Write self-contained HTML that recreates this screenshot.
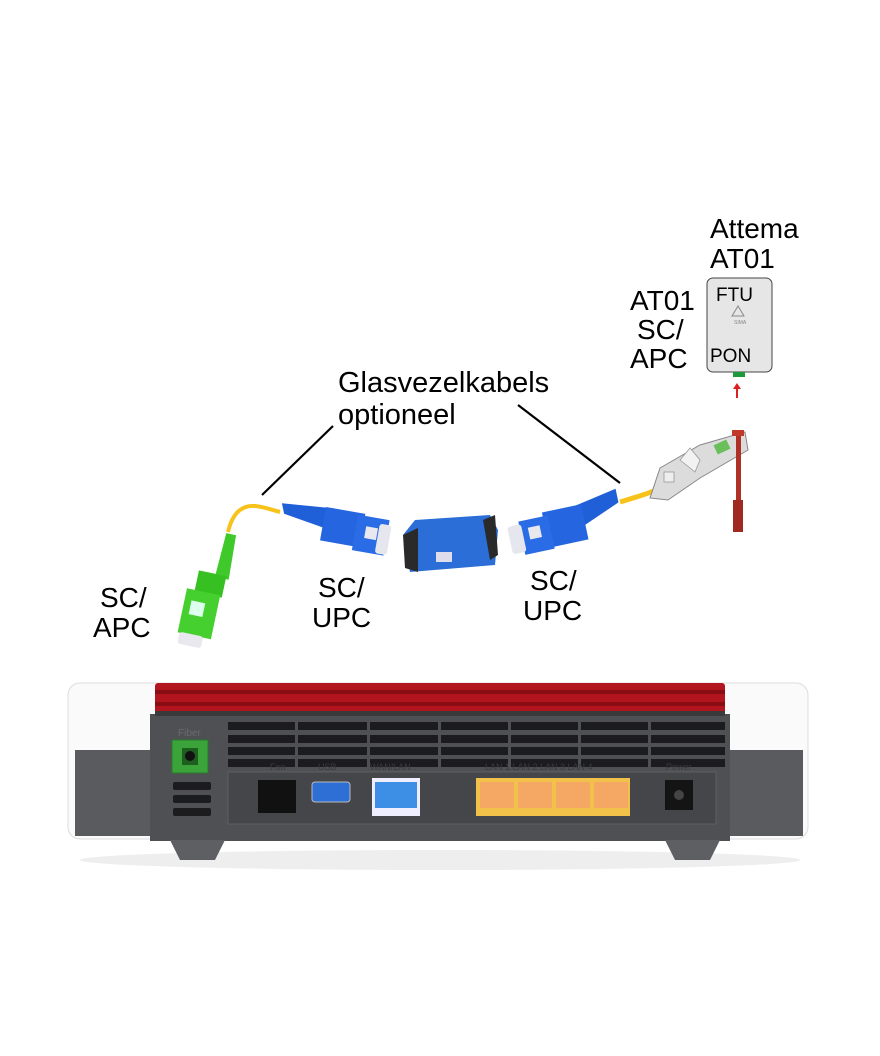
<!DOCTYPE html>
<html><head><meta charset="utf-8"><style>
html,body{margin:0;padding:0;background:#fff}
svg{display:block}
text{font-family:"Liberation Sans",Arial,sans-serif;fill:#000}
</style></head><body>
<svg width="880" height="1056" viewBox="0 0 880 1056" xmlns="http://www.w3.org/2000/svg">
<rect width="880" height="1056" fill="#fff"/>
<!-- labels -->
<text x="710" y="238" font-size="28">Attema</text>
<text x="710" y="268" font-size="28">AT01</text>
<text x="630" y="310" font-size="28">AT01</text>
<text x="637" y="339" font-size="28">SC/</text>
<text x="630" y="368" font-size="28">APC</text>
<text x="338" y="392" font-size="29">Glasvezelkabels</text>
<text x="338" y="424" font-size="29">optioneel</text>
<text x="100" y="607" font-size="28">SC/</text>
<text x="93" y="637" font-size="28">APC</text>
<text x="318" y="597" font-size="28">SC/</text>
<text x="312" y="627" font-size="28">UPC</text>
<text x="530" y="590" font-size="28">SC/</text>
<text x="523" y="620" font-size="28">UPC</text>
<!-- leader lines -->
<line x1="333" y1="426" x2="262" y2="495" stroke="#000" stroke-width="2.2"/>
<line x1="518" y1="405" x2="620" y2="483" stroke="#000" stroke-width="2.2"/>
<!-- FTU box -->
<rect x="707" y="278" width="65" height="94" rx="6" fill="#e6e6e6" stroke="#444" stroke-width="1"/>
<text x="716" y="301" font-size="19">FTU</text>
<path d="M738 306 L744 316 L732 316 Z" fill="none" stroke="#888" stroke-width="1"/>
<text x="734" y="324" font-size="5" style="fill:#888">SIMA</text>
<text x="710" y="362" font-size="19">PON</text>
<rect x="733" y="372" width="12" height="5" fill="#1a9a3a"/>
<line x1="737" y1="398" x2="737" y2="387" stroke="#e02020" stroke-width="2"/>
<path d="M733 389 L737 383 L741 389 Z" fill="#e02020"/>
<!-- yellow cables -->
<path d="M228 532 C232 515 240 505 255 506 C265 507 272 510 280 512" fill="none" stroke="#f7c31a" stroke-width="4"/>
<path d="M620 502 C640 496 655 492 672 482" fill="none" stroke="#f7c31a" stroke-width="5"/>
<!-- green connector -->
<g transform="rotate(12 205 590)">
<path d="M214 530 L224 530 L226 575 L212 575 Z" fill="#3fc92a"/>
<rect x="195" y="572" width="28" height="22" fill="#37c022"/>
<rect x="187" y="592" width="34" height="45" fill="#46d030"/>
<rect x="194" y="603" width="14" height="14" fill="#dfe"/>
<rect x="189" y="636" width="24" height="12" rx="3" fill="#e8e8ee"/>
</g>
<!-- left blue connector -->
<g transform="rotate(10 330 530)">
<path d="M278 512 L330 508 L330 530 L282 522 Z" fill="#1f5fd8"/>
<rect x="322" y="508" width="40" height="34" fill="#2566e0"/>
<rect x="355" y="510" width="32" height="36" fill="#2a6ce6"/>
<rect x="365" y="520" width="12" height="12" fill="#e8e8ee"/>
<rect x="378" y="515" width="12" height="30" rx="3" fill="#e6e6ee"/>
</g>
<!-- adapter -->
<path d="M403 535 L415 520 L490 515 L498 530 L495 565 L410 572 Z" fill="#2b6ed8"/>
<path d="M403 535 L418 528 L418 572 L405 568 Z" fill="#2a2a2a"/>
<path d="M483 520 L495 515 L498 555 L490 560 Z" fill="#2a2a2a"/>
<rect x="436" y="552" width="16" height="10" fill="#dde"/>
<!-- right blue connector -->
<g transform="rotate(-12 565 525)">
<path d="M570 510 L622 500 L622 514 L570 535 Z" fill="#1f5fd8"/>
<rect x="545" y="508" width="40" height="36" fill="#2566e0"/>
<rect x="520" y="512" width="30" height="34" fill="#2a6ce6"/>
<rect x="528" y="520" width="12" height="12" fill="#e8e8ee"/>
<rect x="508" y="515" width="14" height="28" rx="3" fill="#e6e6ee"/>
</g>
<!-- Attema connector -->
<g>
<path d="M660 468 L700 445 L745 432 L748 450 L700 478 L668 500 L650 498 Z" fill="#dcdcdc" stroke="#888" stroke-width="1"/>
<path d="M680 460 L690 448 L700 460 L695 472 Z" fill="#f2f2f2" stroke="#999" stroke-width="0.8"/>
<rect x="715" y="442" width="14" height="10" fill="#6bbf5a" transform="rotate(-25 722 447)"/>
<rect x="664" y="472" width="10" height="10" fill="#eee" stroke="#999" stroke-width="0.8"/>
<rect x="736" y="432" width="5" height="98" fill="#b03025"/>
<rect x="733" y="500" width="10" height="32" fill="#a02a20"/>
<rect x="732" y="430" width="12" height="6" fill="#c0392b"/>
</g>
<!-- router -->
<ellipse cx="440" cy="860" rx="360" ry="10" fill="#eee"/>
<rect x="68" y="683" width="740" height="156" rx="12" fill="#fafafa" stroke="#ddd"/>
<rect x="75" y="750" width="80" height="86" fill="#5a5b5f"/>
<rect x="725" y="750" width="78" height="86" fill="#5a5b5f"/>
<rect x="150" y="714" width="580" height="127" fill="#4f5054"/>
<rect x="155" y="683" width="570" height="33" rx="3" fill="#b3151e"/>
<rect x="155" y="690" width="570" height="4" fill="#8a0d14"/>
<rect x="155" y="702" width="570" height="4" fill="#8a0d14"/>
<rect x="155" y="711" width="570" height="5" fill="#3a3a3c"/>
<!-- vents -->
<g fill="#1c1c1e">
<rect x="228" y="722" width="497" height="8"/><rect x="228" y="735" width="497" height="8"/>
<rect x="228" y="747" width="497" height="8"/><rect x="228" y="759" width="497" height="8"/>
</g>
<g fill="#4f5054">
<rect x="295" y="720" width="3" height="50"/><rect x="367" y="720" width="3" height="50"/>
<rect x="438" y="720" width="3" height="50"/><rect x="508" y="720" width="3" height="50"/>
<rect x="578" y="720" width="3" height="50"/><rect x="648" y="720" width="3" height="50"/>
</g>
<text x="178" y="736" font-size="10" style="fill:#6a6b70">Fiber</text>
<rect x="172" y="740" width="36" height="33" fill="#3aa33a" stroke="#2a7a2a"/>
<rect x="182" y="748" width="16" height="17" fill="#1e5e1e"/>
<circle cx="190" cy="756" r="5" fill="#111"/>
<g fill="#1c1c1e"><rect x="173" y="782" width="38" height="8" rx="2"/><rect x="173" y="795" width="38" height="8" rx="2"/><rect x="173" y="808" width="38" height="8" rx="2"/></g>
<rect x="228" y="772" width="488" height="52" fill="#45464a" stroke="#5e5f63"/>
<rect x="258" y="780" width="38" height="33" fill="#111"/>
<rect x="312" y="782" width="38" height="20" rx="3" fill="#2e6fd6" stroke="#bbb"/>
<rect x="372" y="778" width="48" height="38" fill="#eef"/>
<rect x="375" y="782" width="42" height="26" fill="#3d8fe6"/>
<rect x="476" y="778" width="154" height="38" fill="#f2c14a"/>
<g fill="#f5a764"><rect x="480" y="782" width="34" height="26"/><rect x="518" y="782" width="34" height="26"/><rect x="556" y="782" width="34" height="26"/><rect x="594" y="782" width="34" height="26"/></g>
<rect x="665" y="780" width="28" height="30" fill="#141414"/>
<circle cx="679" cy="795" r="5" fill="#444"/>
<g font-size="9" style="fill:#3a3b3e">
<text x="270" y="770" style="fill:#3a3b3e">Fon</text><text x="318" y="770" style="fill:#3a3b3e">USB</text>
<text x="370" y="770" style="fill:#3a3b3e">WAN/LAN</text><text x="485" y="770" style="fill:#3a3b3e">LAN 1  LAN 2  LAN 3  LAN 4</text>
<text x="666" y="770" style="fill:#3a3b3e">Power</text></g>
<path d="M170 840 L225 840 L215 860 L180 860 Z" fill="#5e5f63"/>
<path d="M665 840 L720 840 L710 860 L675 860 Z" fill="#5e5f63"/>
</svg>
</body></html>
